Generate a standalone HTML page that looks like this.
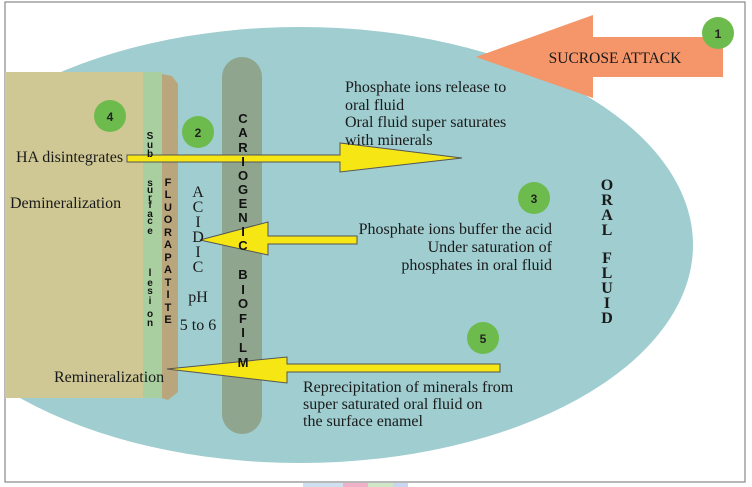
<!DOCTYPE html>
<html><head><meta charset="utf-8"><style>
html,body{margin:0;padding:0;background:#fff;}
svg{display:block;}
.s{font-family:"Liberation Serif",serif;font-size:16px;fill:#1a1a1a;}
.v{font-family:"Liberation Sans",sans-serif;font-weight:bold;fill:#111;}
</style></head><body>
<svg width="752" height="487" viewBox="0 0 752 487" xmlns="http://www.w3.org/2000/svg">
<rect x="0" y="0" width="752" height="487" fill="#fff"/>
<defs><clipPath id="c"><rect x="5" y="2" width="740" height="480"/></clipPath></defs>
<g clip-path="url(#c)">
<ellipse cx="300" cy="245" rx="393" ry="218" fill="#9fcdd0"/>
</g>
<rect x="5" y="2" width="740" height="480" fill="none" stroke="#888" stroke-width="1.2"/>
<polygon points="476,57 593,15 593,37 723,37 723,77 593,77 593,98" fill="#f4956a"/>
<text x="615" y="63" class="s" text-anchor="middle" style="font-size:15.5px">SUCROSE ATTACK</text>
<rect x="5" y="72" width="140" height="326" fill="#cfc894"/>
<rect x="143" y="72" width="19" height="326" fill="#a9cfa0"/>
<polygon points="162,74 172,76 178,84 178,392 168,400 162,398" fill="#b9a67c"/>
<rect x="222" y="57" width="40" height="377" rx="20" fill="#8fa58d"/>
<g stroke="#555" stroke-width="1" fill="#f5e614" stroke-linejoin="miter">
<polygon points="127,155 340,155 340,143 462,158 340,172 340,162 127,162"/>
<polygon points="200,240 268,222 268,236 357,236 357,244 268,244 268,255"/>
<polygon points="167,369 287,357 287,364 500,364 500,372 287,372 287,383"/>
</g>
<g fill="#6dbb4d">
<circle cx="718" cy="33" r="16"/><circle cx="198" cy="132" r="16"/>
<circle cx="534" cy="198" r="16"/><circle cx="110" cy="116" r="16"/>
<circle cx="483" cy="338" r="16"/>
</g>
<g font-family="Liberation Sans,sans-serif" font-weight="bold" font-size="12" text-anchor="middle" fill="#222">
<text x="718" y="38">1</text><text x="198" y="137">2</text><text x="534" y="203">3</text>
<text x="110" y="121">4</text><text x="483" y="343">5</text>
</g>
<text x="16" y="162" class="s">HA disintegrates</text>
<text x="10" y="208" class="s">Demineralization</text>
<text x="54" y="382" class="s">Remineralization</text>
<text class="s"><tspan x="345" y="92">Phosphate ions release to</tspan><tspan x="345" y="110">oral fluid</tspan><tspan x="345" y="127">Oral fluid super saturates</tspan><tspan x="345" y="145">with minerals</tspan></text>
<text class="s" text-anchor="end"><tspan x="552" y="234">Phosphate ions buffer the acid</tspan><tspan x="552" y="252">Under saturation of</tspan><tspan x="552" y="270">phosphates in oral fluid</tspan></text>
<text class="s"><tspan x="303" y="392">Reprecipitation of minerals from</tspan><tspan x="303" y="409">super saturated oral fluid on</tspan><tspan x="303" y="426">the surface enamel</tspan></text>
<g class="v" font-size="10" text-anchor="middle">
<text x="150" y="139">S</text><text x="150" y="148">u</text><text x="150" y="157">b</text>
<text x="150" y="186">s</text><text x="150" y="193">u</text><text x="150" y="201">r</text><text x="150" y="208">f</text><text x="150" y="217">a</text><text x="150" y="224">c</text><text x="150" y="234">e</text>
<text x="150" y="276">l</text><text x="150" y="286">e</text><text x="150" y="294">s</text><text x="150" y="304">i</text><text x="150" y="317">o</text><text x="150" y="326">n</text>
</g>
<g class="v" font-size="11" text-anchor="middle" font-weight="normal">
<text x="168" y="186">F</text><text x="168" y="198">L</text><text x="168" y="211">U</text><text x="168" y="223">O</text><text x="168" y="236">R</text><text x="168" y="248">A</text><text x="168" y="261">P</text><text x="168" y="273">A</text><text x="168" y="286">T</text><text x="168" y="298">I</text><text x="168" y="311">T</text><text x="168" y="323">E</text>
</g>
<g class="v" font-size="13" text-anchor="middle">
<text x="243" y="123">C</text><text x="243" y="137">A</text><text x="243" y="152">R</text><text x="243" y="166">I</text><text x="243" y="180">O</text><text x="243" y="194">G</text><text x="243" y="208">E</text><text x="243" y="222">N</text><text x="243" y="236">I</text><text x="243" y="250">C</text>
<text x="243" y="279">B</text><text x="243" y="294">I</text><text x="243" y="308">O</text><text x="243" y="323">F</text><text x="243" y="337">I</text><text x="243" y="352">L</text><text x="243" y="367">M</text>
</g>
<g class="s" text-anchor="middle" style="font-size:16px">
<text x="198" y="197">A</text><text x="198" y="212">C</text><text x="198" y="227">I</text><text x="198" y="242">D</text><text x="198" y="257">I</text><text x="198" y="272">C</text>
<text x="198" y="302">pH</text><text x="198" y="330">5 to 6</text>
</g>
<g class="s" text-anchor="middle" style="font-size:16px;font-weight:bold">
<text x="607" y="190">O</text><text x="607" y="205">R</text><text x="607" y="220">A</text><text x="607" y="235">L</text>
<text x="607" y="263">F</text><text x="607" y="278">L</text><text x="607" y="293">U</text><text x="607" y="308">I</text><text x="607" y="323">D</text>
</g>
<rect x="303" y="483" width="40" height="4" fill="#cfe0f0"/>
<rect x="343" y="483" width="25" height="4" fill="#f0b0c8"/>
<rect x="368" y="483" width="25" height="4" fill="#d0e8c8"/>
<rect x="393" y="483" width="15" height="4" fill="#c8d8f0"/>
</svg>
</body></html>
